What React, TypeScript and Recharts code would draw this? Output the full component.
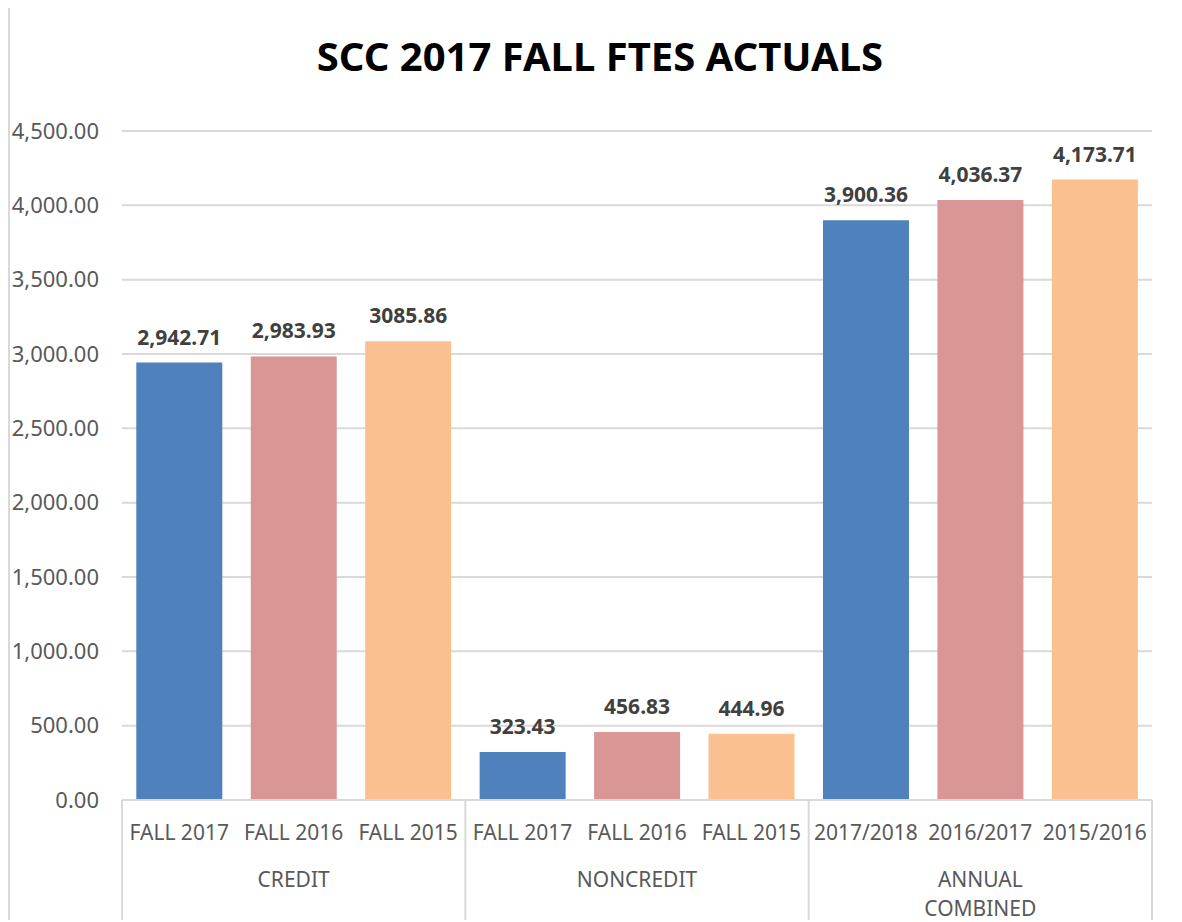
import React from 'react';
import { BarChart, Bar, XAxis, YAxis, CartesianGrid, Cell, LabelList } from 'recharts';

const categories = ['FALL 2017', 'FALL 2016', 'FALL 2015', 'FALL 2017', 'FALL 2016', 'FALL 2015', '2017/2018', '2016/2017', '2015/2016'];
const groups = [['CREDIT'], ['NONCREDIT'], ['ANNUAL', 'COMBINED']];
const values = [2942.71, 2983.93, 3085.86, 323.43, 456.83, 444.96, 3900.36, 4036.37, 4173.71];
const valueLabels = ['2,942.71', '2,983.93', '3085.86', '323.43', '456.83', '444.96', '3,900.36', '4,036.37', '4,173.71'];
const yTicks = [0, 500, 1000, 1500, 2000, 2500, 3000, 3500, 4000, 4500];
const colors = ['#4F81BD', '#D99694', '#FAC090'];

const data = categories.map((name, i) => ({
    key: `${i}`,
    name,
    value: values[i],
    label: valueLabels[i],
}));

const FONT = '"Noto Sans", sans-serif';
const CHART_W = 1172;
const MARGIN = { top: 123, right: 30, left: 0, bottom: 38 };
const Y_W = 112;
const STEP = (CHART_W - MARGIN.left - MARGIN.right - Y_W) / categories.length;

const fmtY = (v: number) =>
    v.toLocaleString('en-US', { minimumFractionDigits: 2, maximumFractionDigits: 2 });

const GroupTick = (props: any) => {
    const { x, y, payload } = props;
    const i = payload.index;
    const group = groups[Math.floor(i / 3)];
    return (
        <g>
            <text x={x} y={y + 40} textAnchor="middle" fill="#595959" fontSize={21} fontFamily={FONT}>
                {categories[i]}
            </text>
            {i % 3 === 1 &&
                group.map((line, j) => (
                    <text key={j} x={x} y={y + 87 + j * 29} textAnchor="middle" fill="#595959" fontSize={21} fontFamily={FONT}>
                        {line}
                    </text>
                ))}
            {i % 3 === 0 && <line x1={x - STEP / 2} x2={x - STEP / 2} y1={y} y2={y + 160} stroke="#D9D9D9" strokeWidth={2} />}
            {i === categories.length - 1 && (
                <line x1={x + STEP / 2} x2={x + STEP / 2} y1={y} y2={y + 160} stroke="#D9D9D9" strokeWidth={2} />
            )}
        </g>
    );
};

const App: React.FC = () => {
    return (
        <div style={{ width: 1174, height: 914, overflow: 'hidden', marginTop: -2 }}>
            <div style={{ position: 'relative', width: 1200, height: 960, border: '2px solid #D9D9D9', background: '#fff' }}>
                <div
                    style={{
                        position: 'absolute',
                        top: 20,
                        left: 4,
                        width: CHART_W,
                        textAlign: 'center',
                        fontFamily: FONT,
                        fontWeight: 700,
                        fontSize: 40,
                        color: '#000',
                    }}
                >
                    SCC 2017 FALL FTES ACTUALS
                </div>
                <BarChart width={CHART_W} height={950} data={data} margin={MARGIN} barCategoryGap="12.5%">
                    <CartesianGrid vertical={false} stroke="#D9D9D9" strokeWidth={2} />
                    <XAxis
                        dataKey="key"
                        interval={0}
                        height={120}
                        tickLine={false}
                        tickSize={0}
                        tickMargin={0}
                        axisLine={{ stroke: '#D9D9D9', strokeWidth: 2 }}
                        tick={<GroupTick />}
                    />
                    <YAxis
                        width={Y_W}
                        domain={[0, 4500]}
                        ticks={yTicks}
                        interval={0}
                        tickFormatter={fmtY}
                        axisLine={false}
                        tickLine={false}
                        tickMargin={17}
                        tick={{ fill: '#595959', fontSize: 22, fontFamily: FONT }}
                    />
                    <Bar dataKey="value" isAnimationActive={false}>
                        {data.map((d, i) => (
                            <Cell key={d.key} fill={colors[i % 3]} />
                        ))}
                        <LabelList
                            dataKey="label"
                            position="top"
                            offset={18}
                            fill="#404040"
                            fontSize={21}
                            fontWeight={700}
                            fontFamily={FONT}
                        />
                    </Bar>
                </BarChart>
            </div>
        </div>
    );
};

export default App;
